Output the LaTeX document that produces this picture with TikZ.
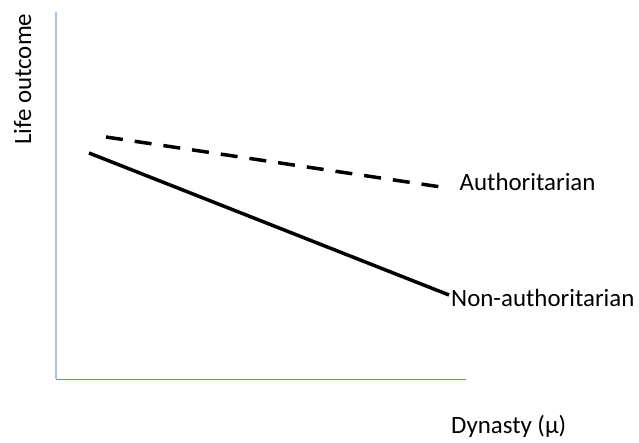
\documentclass[tikz,border=0pt]{standalone}
\usepackage{fontspec}
\setmainfont{Carlito}
\definecolor{yaxis}{RGB}{170,195,228}
\definecolor{xaxis}{RGB}{100,140,200}
\begin{document}
\begin{tikzpicture}[x=1pt,y=-1pt,
  lbl/.style={inner sep=0pt,font=\fontsize{24.9pt}{29pt}\selectfont},
  curve/.style={line width=3.5pt,black}]
\useasboundingbox (0,0) rectangle (639,443);
\coordinate (ytop) at (55.7,12.3);
\coordinate (orig) at (55.7,379.3);
\coordinate (xend) at (465.7,379.3);
\draw[yaxis,line width=2.2pt] (ytop) -- (orig);
\draw[xaxis,line width=1.5pt] (orig) -- (xend);
\coordinate (a1) at (106,137);
\coordinate (a2) at (441,187);
\coordinate (n1) at (89,153);
\coordinate (n2) at (449,295);
\draw[curve,dash pattern=on 17pt off 12pt] (a1) -- (a2);
\draw[curve] (n1) -- (n2);
\node[lbl,anchor=base west] (auth) at (459.5,190.7) {Authoritarian};
\node[lbl,anchor=base west] (non) at (451,306.7) {Non-authoritarian};
\node[lbl,anchor=base west] (xlab) at (451,433) {Dynasty (μ)};
\node[lbl,anchor=base west,rotate=90] (ylab) at (31,145) {Life outcome};
\end{tikzpicture}
\end{document}
